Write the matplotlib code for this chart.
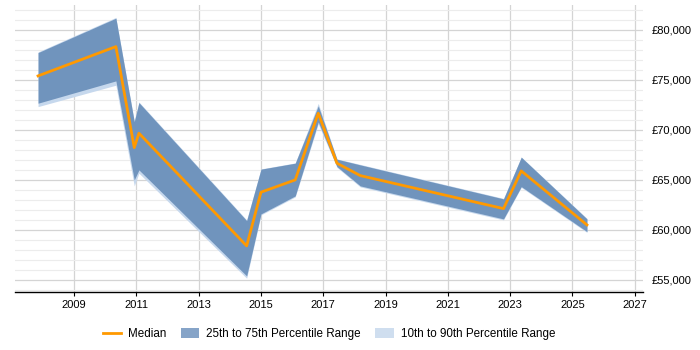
import matplotlib
matplotlib.use("Agg")
import matplotlib.pyplot as plt
from matplotlib.ticker import FuncFormatter, MultipleLocator
from matplotlib.patches import Patch
from matplotlib.lines import Line2D

# data
years = [2007.84, 2010.34, 2010.93, 2011.08, 2014.54, 2015.0, 2016.1,
         2016.84, 2017.44, 2018.19, 2022.79, 2023.36, 2025.47]
median = [75400, 78330, 68230, 69670, 58400, 63770, 65000,
          71670, 66670, 65430, 62130, 65900, 60500]
p25 = [72670, 74900, 65000, 66000, 55400, 61600, 63400,
       70800, 66330, 64400, 61100, 64330, 59830]
p75 = [77730, 81170, 70830, 72730, 60930, 66070, 66670,
       72400, 67070, 66500, 63100, 67270, 61100]
p10 = [72330, 74470, 64400, 65670, 55170, 61500, 63300,
       70600, 66250, 64300, 61000, 64250, 59750]
p90 = [77800, 81250, 70900, 72800, 61000, 66100, 66700,
       72650, 67100, 66550, 63150, 67300, 61150]
xticks = list(range(2009, 2028, 2))

plt.rcParams['font.family'] = ['Liberation Sans', 'DejaVu Sans']

fig = plt.figure(figsize=(7, 3.5), dpi=100)
ax = fig.add_axes([0.021, 0.166, 0.898, 0.82])

band90 = '#c6d8ed'
band75 = '#7094bd'
orange = '#ff9900'

ax.fill_between(years, p10, p90, color=band90, lw=0, zorder=2)
ax.fill_between(years, p25, p75, color=band75, lw=0, zorder=3)
ax.plot(years, median, color=orange, lw=2, zorder=4)

ax.set_xlim(2007.09, 2027.28)
ax.set_ylim(53800, 82500)
ax.set_xticks(xticks)
ax.yaxis.set_major_locator(MultipleLocator(5000))
ax.yaxis.set_minor_locator(MultipleLocator(1000))
ax.yaxis.set_major_formatter(FuncFormatter(lambda v, p: "£{:,.0f}".format(v)))
ax.yaxis.tick_right()

ax.grid(which='major', axis='both', color='#d4d4d4', lw=0.9, zorder=0)
ax.grid(which='minor', axis='y', color='#ececec', lw=0.8, zorder=0)
ax.set_axisbelow(True)

for s in ['top', 'right', 'left']:
    ax.spines[s].set_visible(False)
ax.spines['bottom'].set_color('black')
ax.spines['bottom'].set_linewidth(1)

ax.tick_params(axis='y', which='both', length=0, labelsize=8, pad=6)
ax.tick_params(axis='x', length=3, labelsize=8, color='black', pad=3)

handles = [Line2D([0], [0], color=orange, lw=2),
           Patch(facecolor='#86a4c8', edgecolor='none'),
           Patch(facecolor='#cfdeef', edgecolor='none')]
labels = ['Median', '25th to 75th Percentile Range', '10th to 90th Percentile Range']
fig.legend(handles, labels, loc='center', bbox_to_anchor=(0.47, 0.045), ncol=3,
           frameon=False, fontsize=8.4, handlelength=1.6, handleheight=0.9,
           columnspacing=1.2, handletextpad=0.6)

fig.savefig("out.png", dpi=100)
